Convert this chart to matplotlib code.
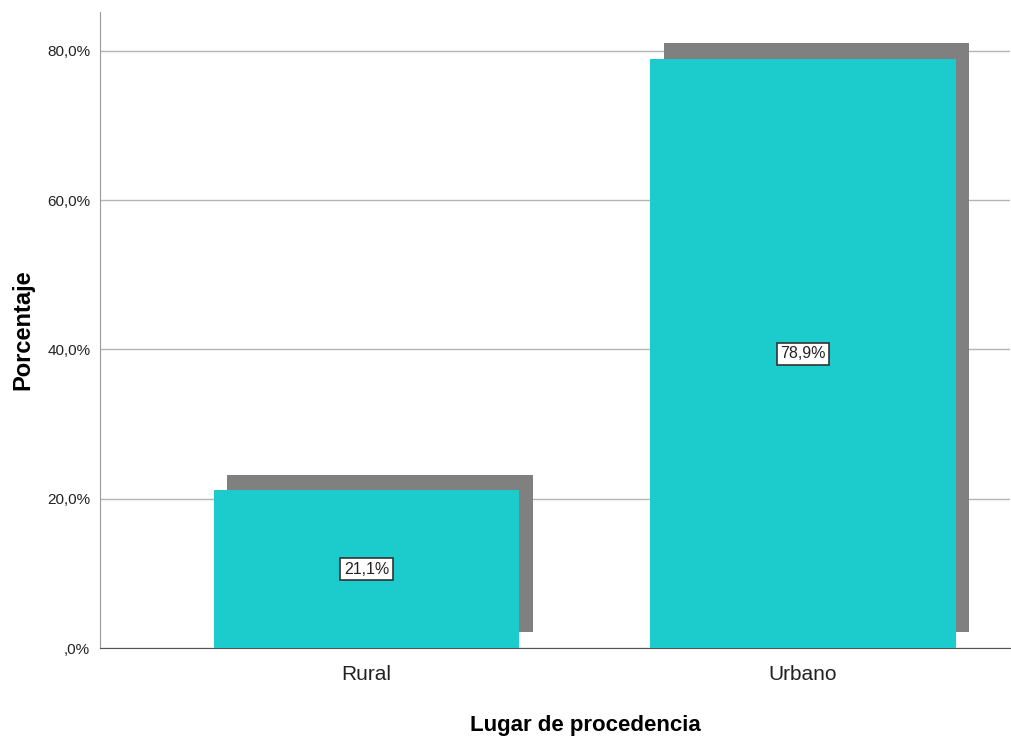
import matplotlib
matplotlib.use("Agg")
import matplotlib.pyplot as plt

plt.rcParams['font.family'] = ['Liberation Sans', 'DejaVu Sans']

categorias = ['Rural', 'Urbano']
porcentajes = [21.1, 78.9]
etiquetas = ['21,1%', '78,9%']
ticks_y = [0, 20, 40, 60, 80]
ticks_y_txt = [',0%', '20,0%', '40,0%', '60,0%', '80,0%']

fig = plt.figure(figsize=(10.11, 7.36), dpi=100)
ax = fig.add_axes([100/1011, (736-648)/736, 910/1011, (648-12)/736])

x = list(range(len(categorias)))
ancho = 0.70
# sombra desplazada hacia arriba y a la derecha
dx, dy = 0.031, 2.14
ax.bar([i + dx for i in x], porcentajes, width=ancho, bottom=dy,
       color='#808080', zorder=2)
ax.bar(x, porcentajes, width=ancho, color='#1ccccc', zorder=3)

for i, v in enumerate(porcentajes):
    ax.text(i, v / 2, etiquetas[i], ha='center', va='center', fontsize=11.5,
            color='#222222', zorder=4,
            bbox=dict(boxstyle='square,pad=0.22', fc='white', ec='#333333', lw=1.2))

ax.set_xlim(-0.6105, 1.474)
ax.set_ylim(0, 85.2)
ax.set_yticks(ticks_y)
ax.set_yticklabels(ticks_y_txt, fontsize=11, color='#222222')
ax.set_xticks(x)
ax.set_xticklabels(categorias, fontsize=15, color='#222222')
ax.tick_params(length=0, pad=7)
ax.tick_params(axis='x', pad=12)

ax.grid(axis='y', color='#b4b4b4', lw=1, zorder=1)
ax.set_axisbelow(True)
for s in ['top', 'right']:
    ax.spines[s].set_visible(False)
ax.spines['left'].set_color('#999999')
ax.spines['bottom'].set_color('#555555')

ax.set_xlabel('Lugar de procedencia', fontsize=16, fontweight='bold')
ax.xaxis.set_label_coords(0.533, -0.106)
ax.set_ylabel('Porcentaje', fontsize=17, fontweight='bold', labelpad=9)

fig.savefig('out.png', dpi=100)
